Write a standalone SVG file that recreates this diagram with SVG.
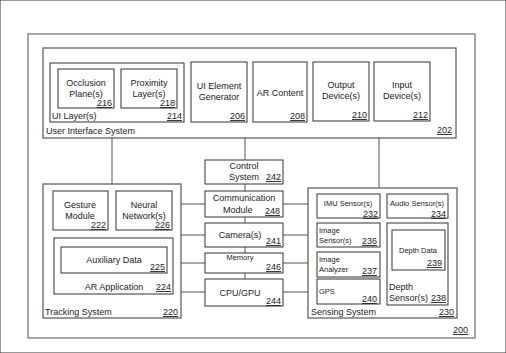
<svg xmlns="http://www.w3.org/2000/svg" width="506" height="353" viewBox="0 0 506 353">
<style>
text{font-family:"Liberation Sans",Arial,sans-serif;font-size:9px;fill:#222}
.s{font-size:7.5px}
.c{text-anchor:middle}
.n{text-anchor:end;text-decoration:underline}
rect{fill:#fff;stroke:#333;stroke-width:1}
.frame{stroke:#777;stroke-width:1.3}
.sys{stroke:#555;stroke-width:1.2}
#connectors line{stroke:#555;stroke-width:1}
</style>
<rect width="506" height="353" fill="#fff" stroke="none"/>
<g id="frame200"><rect class="frame" x="28" y="34" width="447" height="304"/><text class="n" x="468" y="333">200</text></g>
<g id="connectors">
<line x1="112" y1="138" x2="112" y2="184"/>
<line x1="245" y1="138" x2="245" y2="306"/>
<line x1="379" y1="138" x2="379" y2="188"/>
<line x1="181" y1="204" x2="308" y2="204"/>
<line x1="181" y1="235" x2="308" y2="235"/>
<line x1="181" y1="263" x2="308" y2="263"/>
<line x1="181" y1="292" x2="308" y2="292"/>
</g>
<g id="ui-system"><rect class="sys" x="43" y="48" width="413" height="90"/><text x="46" y="134">User Interface System</text><text class="n" x="452" y="133">202</text></g>
<g id="ui-layers"><rect x="50" y="63" width="134" height="59"/><text x="52" y="119">UI Layer(s)</text><text class="n" x="182" y="119">214</text></g>
<g id="occlusion"><rect x="58" y="69" width="56" height="39"/><text class="c" x="86" y="86">Occlusion</text><text class="c" x="86" y="97">Plane(s)</text><text class="n" x="112" y="106">216</text></g>
<g id="proximity"><rect x="121" y="69" width="56" height="39"/><text class="c" x="149" y="86">Proximity</text><text class="c" x="149" y="97">Layer(s)</text><text class="n" x="175" y="106">218</text></g>
<g id="ui-gen"><rect x="191" y="62" width="56" height="60"/><text class="c" x="219" y="89">UI Element</text><text class="c" x="219" y="100">Generator</text><text class="n" x="245" y="119">206</text></g>
<g id="ar-content"><rect x="253" y="62" width="54" height="60"/><text class="c" x="280" y="96">AR Content</text><text class="n" x="305" y="119">208</text></g>
<g id="output"><rect x="313" y="62" width="56" height="59"/><text class="c" x="341" y="88">Output</text><text class="c" x="341" y="99">Device(s)</text><text class="n" x="367" y="118">210</text></g>
<g id="input"><rect x="374" y="62" width="56" height="59"/><text class="c" x="402" y="88">Input</text><text class="c" x="402" y="99">Device(s)</text><text class="n" x="428" y="118">212</text></g>
<g id="tracking"><rect class="sys" x="43" y="184" width="138" height="134"/><text x="45" y="315">Tracking System</text><text class="n" x="178" y="315">220</text></g>
<g id="gesture"><rect x="53" y="191" width="55" height="39"/><text class="c" x="80" y="208">Gesture</text><text class="c" x="80" y="219">Module</text><text class="n" x="106" y="228">222</text></g>
<g id="neural"><rect x="116" y="191" width="56" height="39"/><text class="c" x="144" y="208">Neural</text><text class="c" x="144" y="219">Network(s)</text><text class="n" x="170" y="228">226</text></g>
<g id="ar-app"><rect x="54" y="238" width="119" height="56"/><text class="c" x="114" y="290">AR Application</text><text class="n" x="171" y="290">224</text></g>
<g id="aux"><rect x="61" y="247" width="106" height="26"/><text class="c" x="114" y="263">Auxiliary Data</text><text class="n" x="165" y="270">225</text></g>
<g id="control"><rect x="205" y="160" width="78" height="24"/><text class="c" x="244" y="169">Control</text><text x="229" y="180">System</text><text class="n" x="281" y="180">242</text></g>
<g id="comm"><rect x="205" y="191" width="78" height="26"/><text class="c" x="244" y="201">Communication</text><text x="223" y="213">Module</text><text class="n" x="280" y="214">248</text></g>
<g id="camera"><rect x="205" y="223" width="78" height="24"/><text class="c" x="240" y="238">Camera(s)</text><text class="n" x="281" y="244">241</text></g>
<g id="memory"><rect x="205" y="253" width="78" height="20"/><text class="c s" x="240" y="260">Memory</text><text class="n" x="281" y="270">246</text></g>
<g id="cpu"><rect x="205" y="279" width="78" height="27"/><text class="c" x="240" y="296">CPU/GPU</text><text class="n" x="281" y="304">244</text></g>
<g id="sensing"><rect class="sys" x="308" y="188" width="149" height="130"/><text x="311" y="315">Sensing System</text><text class="n" x="454" y="315">230</text></g>
<g id="imu"><rect x="317" y="194" width="63" height="24"/><text class="c s" x="348" y="206">IMU Sensor(s)</text><text class="n" x="378" y="217">232</text></g>
<g id="audio"><rect x="387" y="194" width="61" height="24"/><text class="c s" x="417" y="206">Audio Sensor(s)</text><text class="n" x="446" y="217">234</text></g>
<g id="img-sensor"><rect x="317" y="223" width="63" height="24"/><text class="s" x="319" y="233">Image</text><text class="s" x="319" y="243">Sensor(s)</text><text class="n" x="377" y="244">236</text></g>
<g id="img-analyzer"><rect x="317" y="252" width="63" height="25"/><text class="s" x="319" y="262">Image</text><text class="s" x="319" y="272">Analyzer</text><text class="n" x="377" y="274">237</text></g>
<g id="gps"><rect x="317" y="279" width="63" height="25"/><text class="s" x="319" y="294">GPS</text><text class="n" x="377" y="302">240</text></g>
<g id="depth-sensor"><rect x="387" y="223" width="61" height="82"/><text x="389" y="290">Depth</text><text x="389" y="301">Sensor(s)</text><text class="n" x="446" y="301">238</text></g>
<g id="depth-data"><rect x="392" y="230" width="53" height="40"/><text class="c s" x="418" y="253">Depth Data</text><text class="n" x="442" y="266">239</text></g>
</svg>
